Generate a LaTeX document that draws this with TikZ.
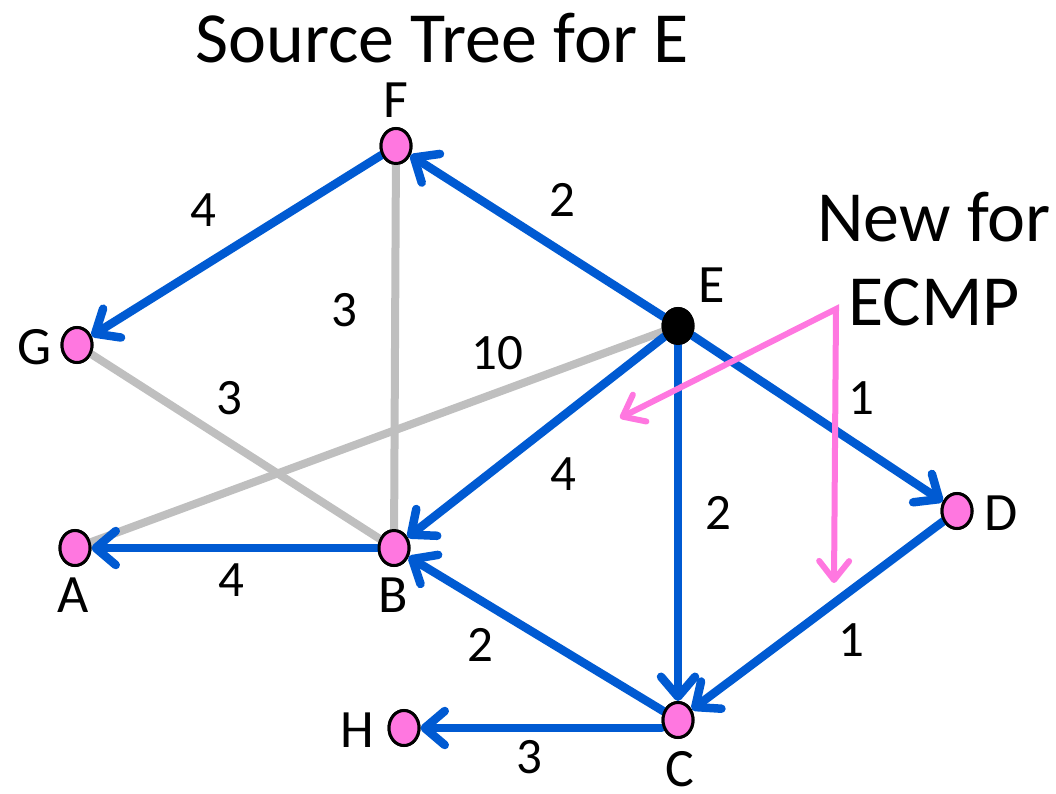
\documentclass[tikz,border=0pt]{standalone}
\usepackage{fontspec}
\setmainfont{Carlito}
\usetikzlibrary{shapes.geometric,arrows.meta}
\definecolor{treeblue}{HTML}{005AD2}
\definecolor{linkgray}{HTML}{BFBFBF}
\definecolor{nodepink}{HTML}{FF77E0}
\definecolor{notepink}{HTML}{FF77E0}
\tikzset{
  router/.style={ellipse, draw=black, line width=3pt, fill=nodepink, minimum width=30pt, minimum height=35pt, inner sep=0pt},
  srcrouter/.style={ellipse, draw=black, line width=3pt, fill=black, minimum width=30pt, minimum height=35pt, inner sep=0pt},
  rlabel/.style={font=\fontsize{54}{54}\selectfont, inner sep=0pt},
  wlabel/.style={font=\fontsize{51}{51}\selectfont, inner sep=0pt},
  bigtext/.style={font=\fontsize{72}{72}\selectfont, inner sep=0pt},
  treeedge/.style={draw=treeblue, line width=8.5pt, line cap=round, -{Straight Barb[length=20pt,width=34pt,round]}},
  grayedge/.style={draw=linkgray, line width=8pt, line cap=round},
  notearrow/.style={draw=notepink, line width=6pt, {Straight Barb[length=19pt,width=30pt,round]}-{Straight Barb[length=19pt,width=30pt,round]}}
}
\begin{document}
\begin{tikzpicture}[x=1pt,y=-1pt]
\useasboundingbox (0,0) rectangle (1056,794);
% routers
\node[router] (F) at (396,146) {};
\node[router] (G) at (77,345) {};
\node[srcrouter] (E) at (678,326) {};
\node[router] (A) at (75,548) {};
\node[router] (B) at (394,548) {};
\node[router] (D) at (957,511) {};
\node[router] (C) at (678,720) {};
\node[router] (H) at (404,728) {};
% gray links
\draw[grayedge] (F) -- (B);
\draw[grayedge] (G) -- (B);
\draw[grayedge] (E) -- (A);
% tree links
\draw[treeedge] (E) -- (F);
\draw[treeedge] (F) -- (G);
\draw[treeedge] (E) -- (B);
\draw[treeedge] (E) -- (C);
\draw[treeedge] (E) -- (D);
\draw[treeedge] (D) -- (C);
\draw[treeedge] (C) -- (B);
\draw[treeedge] (B) -- (A);
\draw[treeedge] (H -| C.west) -- (H);
% redraw routers on top
\node[router] at (F) {};
\node[router] at (G) {};
\node[srcrouter] at (E) {};
\node[router] at (A) {};
\node[router] at (B) {};
\node[router] at (D) {};
\node[router] at (C) {};
\node[router] at (H) {};
% ECMP note arrows
\coordinate (apex) at (836,309);
\coordinate (tipL) at (620,418);
\coordinate (tipD) at (834,583);
\draw[notearrow] (tipL) -- (apex) -- (tipD);
% router labels
\node[rlabel] (lF) at (396,100) {F};
\node[rlabel] (lG) at (35,347) {G};
\node[rlabel] (lE) at (712,285) {E};
\node[rlabel] (lA) at (73,595) {A};
\node[rlabel] (lB) at (393,595) {B};
\node[rlabel] (lD) at (1001,513) {D};
\node[rlabel] (lC) at (680,769) {C};
\node[rlabel] (lH) at (357,730) {H};
% weights
\node[wlabel] (w1) at (562,200) {2};
\node[wlabel] (w2) at (203,210) {4};
\node[wlabel] (w3) at (344,310) {3};
\node[wlabel] (w4) at (497,353) {10};
\node[wlabel] (w5) at (229,398) {3};
\node[wlabel] (w6) at (861,398) {1};
\node[wlabel] (w7) at (563,474) {4};
\node[wlabel] (w8) at (718,513) {2};
\node[wlabel] (w9) at (231,580) {4};
\node[wlabel] (w10) at (480,645) {2};
\node[wlabel] (w11) at (851,640) {1};
\node[wlabel] (w12) at (529,757) {3};
% texts
\node[bigtext] (title) at (442,38) {Source Tree for E};
\node[bigtext] (new1) at (934,217) {New for};
\node[bigtext] (new2) at (934,302) {ECMP};
\end{tikzpicture}
\end{document}
